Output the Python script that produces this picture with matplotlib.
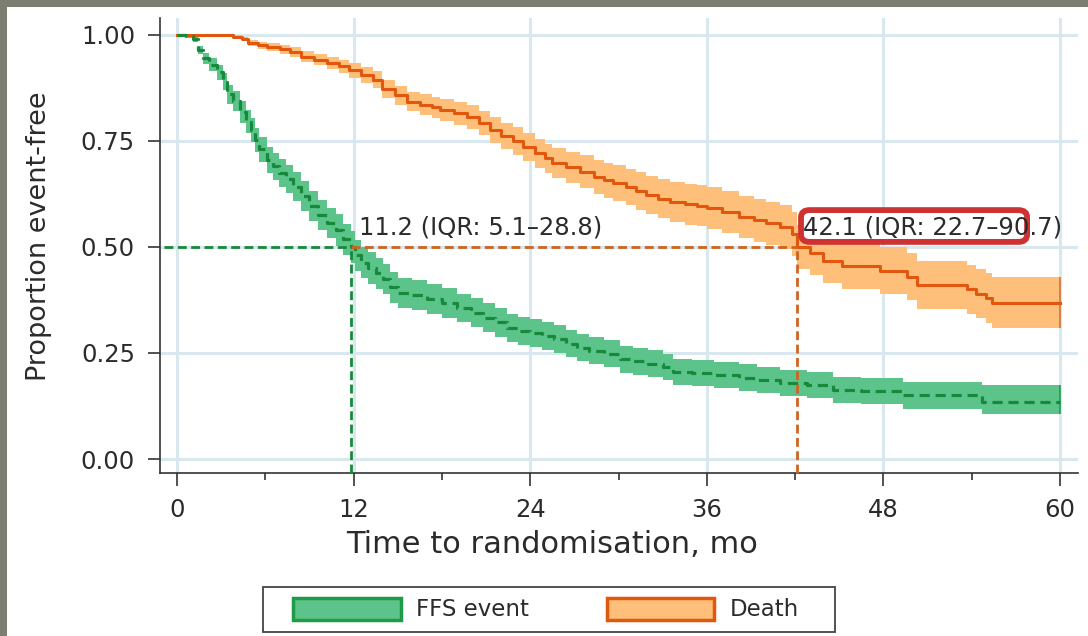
import matplotlib
matplotlib.use("Agg")
import matplotlib.pyplot as plt
from matplotlib.patches import Patch, Rectangle, FancyBboxPatch

# ---------------- data ----------------
# Death (orange, solid line)
t_death = [0, 3.8, 4.4, 4.8, 5.5, 6.1, 7.0, 7.7, 8.4, 9.3,
           10.2, 11.0, 11.7, 12.5, 13.3, 13.9, 14.8, 15.6, 16.5, 17.3,
           17.9, 18.8, 19.7, 20.5, 21.3, 22.0, 22.8, 23.5, 24.3, 25.0,
           25.5, 26.4, 27.4, 28.3, 29.0, 29.6, 30.5, 31.2, 31.9, 32.7,
           33.5, 34.5, 35.3, 36.0, 37.0, 38.2, 39.2, 40.0, 41.0, 41.8,
           42.1, 43.0, 43.9, 45.2, 47.8, 49.6, 50.3, 53.7, 54.3, 55.0,
           55.4, 60]
s_death = [1.0, 0.996, 0.99, 0.982, 0.976, 0.972, 0.966, 0.96, 0.949, 0.942,
           0.934, 0.926, 0.917, 0.905, 0.894, 0.872, 0.858, 0.843, 0.836, 0.829,
           0.823, 0.815, 0.806, 0.792, 0.776, 0.762, 0.75, 0.736, 0.721, 0.709,
           0.698, 0.688, 0.677, 0.665, 0.657, 0.651, 0.641, 0.632, 0.623, 0.614,
           0.606, 0.601, 0.597, 0.592, 0.583, 0.571, 0.563, 0.556, 0.547, 0.53,
           0.5, 0.486, 0.468, 0.455, 0.444, 0.43, 0.41, 0.40, 0.39, 0.38,
           0.369, 0.369]
lo_death = [1.0, 0.993, 0.985, 0.975, 0.968, 0.963, 0.956, 0.949, 0.936, 0.928,
            0.919, 0.910, 0.899, 0.886, 0.874, 0.851, 0.836, 0.820, 0.812, 0.804,
            0.797, 0.788, 0.778, 0.763, 0.746, 0.731, 0.718, 0.703, 0.687, 0.674,
            0.662, 0.651, 0.638, 0.625, 0.616, 0.609, 0.598, 0.588, 0.578, 0.568,
            0.559, 0.553, 0.549, 0.543, 0.533, 0.521, 0.512, 0.505, 0.495, 0.478,
            0.447, 0.433, 0.414, 0.401, 0.389, 0.374, 0.354, 0.343, 0.332, 0.321,
            0.309, 0.309]
hi_death = [1.0, 0.999, 0.995, 0.989, 0.984, 0.981, 0.976, 0.971, 0.962, 0.956,
            0.949, 0.942, 0.935, 0.924, 0.914, 0.893, 0.880, 0.866, 0.860, 0.854,
            0.849, 0.842, 0.834, 0.821, 0.806, 0.793, 0.782, 0.769, 0.755, 0.744,
            0.734, 0.725, 0.716, 0.705, 0.698, 0.693, 0.684, 0.676, 0.668, 0.660,
            0.653, 0.649, 0.645, 0.641, 0.633, 0.621, 0.614, 0.607, 0.599, 0.582,
            0.553, 0.539, 0.522, 0.509, 0.499, 0.486, 0.466, 0.457, 0.448, 0.439,
            0.429, 0.429]

# FFS event (green, dashed line)
t_ffs = [0, 0.6, 1.1, 1.4, 1.8, 2.2, 2.7, 3.1, 3.4, 3.8,
         4.3, 4.7, 5.0, 5.3, 5.6, 6.1, 6.5, 6.9, 7.4, 7.9,
         8.4, 9.0, 9.6, 10.2, 10.8, 11.3, 11.8, 12.1, 12.5, 13.0,
         13.5, 14.0, 14.5, 15.0, 16.0, 17.0, 18.0, 19.0, 20.0, 20.8,
         21.6, 22.4, 23.2, 24.0, 24.8, 25.6, 26.4, 27.2, 28.0, 29.0,
         30.1, 31.0, 32.0, 33.0, 33.7, 35.0, 36.5, 38.2, 39.4, 41.0,
         42.8, 44.6, 46.5, 49.3, 54.7, 60]
s_ffs = [1.0, 0.997, 0.99, 0.965, 0.945, 0.93, 0.912, 0.89, 0.86, 0.845,
         0.818, 0.795, 0.775, 0.752, 0.73, 0.705, 0.69, 0.675, 0.66, 0.642,
         0.62, 0.596, 0.575, 0.557, 0.54, 0.518, 0.5, 0.48, 0.463, 0.45,
         0.438, 0.425, 0.405, 0.392, 0.386, 0.378, 0.368, 0.356, 0.345, 0.333,
         0.322, 0.31, 0.302, 0.297, 0.29, 0.283, 0.272, 0.262, 0.255, 0.248,
         0.235, 0.23, 0.225, 0.217, 0.205, 0.202, 0.198, 0.192, 0.186, 0.18,
         0.174, 0.163, 0.16, 0.15, 0.134, 0.134]
lo_ffs = [1.0, 0.994, 0.984, 0.955, 0.932, 0.915, 0.894, 0.870, 0.838, 0.821,
          0.792, 0.768, 0.747, 0.723, 0.700, 0.674, 0.658, 0.642, 0.627, 0.608,
          0.585, 0.561, 0.539, 0.521, 0.503, 0.481, 0.463, 0.443, 0.426, 0.413,
          0.402, 0.389, 0.369, 0.357, 0.351, 0.343, 0.333, 0.322, 0.311, 0.299,
          0.288, 0.277, 0.269, 0.264, 0.257, 0.250, 0.240, 0.230, 0.223, 0.216,
          0.203, 0.198, 0.193, 0.186, 0.174, 0.171, 0.167, 0.161, 0.155, 0.149,
          0.143, 0.132, 0.129, 0.117, 0.107, 0.107]
hi_ffs = [1.0, 1.0, 0.996, 0.975, 0.958, 0.945, 0.930, 0.910, 0.882, 0.869,
          0.844, 0.822, 0.803, 0.781, 0.760, 0.736, 0.722, 0.708, 0.693, 0.676,
          0.655, 0.631, 0.611, 0.593, 0.577, 0.555, 0.537, 0.517, 0.500, 0.487,
          0.474, 0.461, 0.441, 0.427, 0.421, 0.413, 0.403, 0.390, 0.379, 0.367,
          0.356, 0.343, 0.335, 0.330, 0.323, 0.316, 0.304, 0.294, 0.287, 0.280,
          0.267, 0.262, 0.257, 0.248, 0.236, 0.233, 0.229, 0.223, 0.217, 0.211,
          0.205, 0.194, 0.191, 0.181, 0.175, 0.175]

median_ffs = 11.8
median_death = 42.1
label_ffs = "11.2 (IQR: 5.1\u201328.8)"
label_death = "42.1 (IQR: 22.7\u201390.7)"

x_ticks = [0, 12, 24, 36, 48, 60]
x_minor = [6, 18, 30, 42, 54]
y_ticks = [0.0, 0.25, 0.5, 0.75, 1.0]
y_ticklabels = ["0.00", "0.25", "0.50", "0.75", "1.00"]
legend_labels = ["FFS event", "Death"]

# ---------------- styling ----------------
GREEN_LINE = "#17893a"
GREEN_FILL = "#5cc48a"
GREEN_EDGE = "#1f9b48"
ORANGE_LINE = "#e2570e"
ORANGE_FILL = "#fdbf79"
ORANGE_MED = "#cf6320"
GRID = "#d9e8ee"
TXT = "#2b2b2b"

W, H = 1088, 636
fig = plt.figure(figsize=(W / 100, H / 100), dpi=100)
fig.patch.set_facecolor("#7b7e71")
fig.add_artist(Rectangle((7 / W, 0), 1 - 7 / W, 1 - 7 / H, transform=fig.transFigure,
                         facecolor="white", edgecolor="none", zorder=0))

ax_left, ax_right, ax_top, ax_bot = 160, 1078, 18, 473
ax = fig.add_axes([ax_left / W, 1 - ax_bot / H, (ax_right - ax_left) / W, (ax_bot - ax_top) / H])
ax.set_facecolor("white")
ax.set_xlim(-1.155, 61.22)
ax.set_ylim(-0.033, 1.040)

for s in ["top", "right"]:
    ax.spines[s].set_visible(False)
for s in ["left", "bottom"]:
    ax.spines[s].set_color("#333333")
    ax.spines[s].set_linewidth(1.2)

ax.set_xticks(x_ticks)
ax.set_xticks(x_minor, minor=True)
ax.set_yticks(y_ticks)
ax.set_yticklabels(y_ticklabels)
ax.tick_params(axis="both", which="major", length=9, width=1.2, color="#333333",
               labelsize=17.5, labelcolor=TXT, pad=9)
ax.tick_params(axis="x", which="minor", length=5, width=1.2, color="#333333")
ax.grid(True, which="major", color=GRID, linewidth=2.2, zorder=0)
ax.set_axisbelow(True)

# confidence bands
ax.fill_between(t_ffs, lo_ffs, hi_ffs, step="post", color=GREEN_FILL,
                linewidth=0, zorder=2)
ax.fill_between(t_death, lo_death, hi_death, step="post", color=ORANGE_FILL,
                linewidth=0, zorder=2)
ax.vlines([t_ffs[-1]], [lo_ffs[-1]], [hi_ffs[-1]], color=GREEN_EDGE, lw=1.2, zorder=3)
ax.vlines([t_death[-1]], [lo_death[-1]], [hi_death[-1]], color="#d9702a", lw=1.2, zorder=3)

# survival curves
ax.step(t_death, s_death, where="post", color=ORANGE_LINE, lw=2.2, zorder=4)
ax.step(t_ffs, s_ffs, where="post", color=GREEN_LINE, lw=2.3,
        linestyle=(0, (3.2, 1.8)), zorder=4)

# median reference lines
ybot = ax.get_ylim()[0]
ax.plot([median_ffs, median_death], [0.5, 0.5], color=ORANGE_MED, lw=2.0,
        linestyle=(0, (3.2, 1.6)), zorder=5)
ax.plot([median_death, median_death], [ybot, 0.5], color=ORANGE_MED, lw=2.0,
        linestyle=(0, (3.2, 1.6)), zorder=5, clip_on=False)
ax.plot([ax.get_xlim()[0] + 0.3, median_ffs], [0.5, 0.5], color=GREEN_LINE, lw=2.0,
        linestyle=(0, (3.2, 1.6)), zorder=5)
ax.plot([median_ffs, median_ffs], [ybot, 0.5], color=GREEN_LINE, lw=2.0,
        linestyle=(0, (3.2, 1.6)), zorder=5, clip_on=False)

# highlight box behind the Death label
box = FancyBboxPatch((42.4, 0.512), 15.36, 0.075,
                     boxstyle="round,pad=0.0,rounding_size=0.6",
                     mutation_aspect=0.028,
                     facecolor="white", edgecolor="#cf3232", linewidth=4.2, zorder=6)
ax.add_patch(box)

ax.text(12.4, 0.545, label_ffs, fontsize=17.5, color=TXT, va="center", ha="left", zorder=7)
ax.text(42.55, 0.545, label_death, fontsize=17.5, color=TXT, va="center", ha="left", zorder=7)

ax.set_xlabel("Time to randomisation, mo", fontsize=22, color=TXT, va="top", ha="center")
ax.xaxis.set_label_coords((552 - ax_left) / (ax_right - ax_left), -(530 - ax_bot) / (ax_bot - ax_top))
ax.set_ylabel("Proportion event-free", fontsize=19.5, color=TXT)
ax.yaxis.set_label_coords(-(ax_left - 52) / (ax_right - ax_left), (ax_bot - 236) / (ax_bot - ax_top))

# legend
handles = [Patch(facecolor=GREEN_FILL, edgecolor=GREEN_EDGE, linewidth=2.5),
           Patch(facecolor=ORANGE_FILL, edgecolor=ORANGE_LINE, linewidth=2.5)]
leg = fig.legend(handles, legend_labels, loc="center", ncol=2,
                 bbox_to_anchor=(546 / W, 1 - 609.5 / H), frameon=False,
                 fontsize=16.5, handlelength=4.7, handleheight=1.1,
                 handletextpad=0.66, columnspacing=3.4, borderpad=0.3)
for t in leg.get_texts():
    t.set_color(TXT)
fig.add_artist(Rectangle((263 / W, 1 - 632 / H), 572 / W, 45 / H, transform=fig.transFigure,
                         fill=False, edgecolor="#444444", linewidth=1.3, zorder=5))

fig.savefig("out.png", dpi=100, facecolor=fig.get_facecolor())
